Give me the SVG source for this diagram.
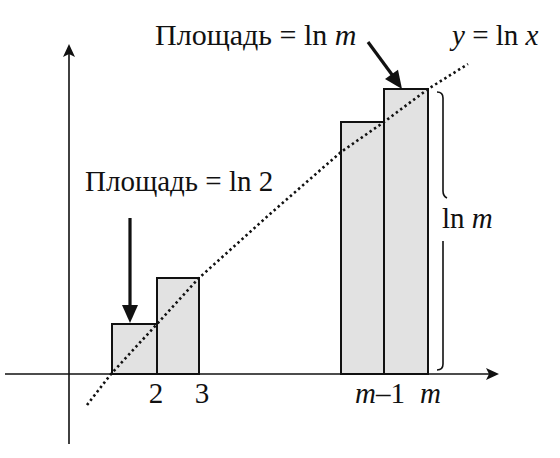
<svg xmlns="http://www.w3.org/2000/svg" width="560" height="458" viewBox="0 0 560 458">
<style>
text{font-family:"Liberation Serif","Times New Roman",serif;font-size:29px;fill:#111}
.it{font-style:italic}
.bar{fill:#e2e2e2;stroke:#111;stroke-width:2}
.axis{stroke:#111;stroke-width:1.6;fill:none}
.curve{stroke:#111;stroke-width:2.6;fill:none;stroke-dasharray:2.4 3}
.ptr{stroke:#111;stroke-width:3.2;fill:none}
</style>
<rect width="560" height="458" fill="#fff"/>
<g id="bars">
<rect id="bar-2" class="bar" x="112" y="324" width="45" height="50"/>
<rect id="bar-3" class="bar" x="157" y="278" width="42" height="96"/>
<rect id="bar-m1" class="bar" x="341" y="122" width="43" height="252"/>
<rect id="bar-m" class="bar" x="384" y="89" width="44" height="285"/>
</g>
<g id="axes">
<line class="axis" x1="5" y1="374" x2="492" y2="374"/>
<path d="M499,374 L486,368 L489,374 L486,380 Z" fill="#111"/>
<line class="axis" x1="69" y1="444" x2="69" y2="52"/>
<path d="M69,44 L63,57 L69,54 L75,57 Z" fill="#111"/>
</g>
<g id="curve">
<polyline class="curve" points="87,405 111,374 157,324 199,278 270,214 341,152 384,122 428,89 468,64"/>
<text x="452" y="45"><tspan class="it">y</tspan> = ln <tspan class="it">x</tspan></text>
</g>
<g id="connectors">
<line class="ptr" x1="368" y1="42" x2="393" y2="76"/>
<polygon points="398,69.7 385,79.1 402,89" fill="#111"/>
<line class="ptr" x1="130" y1="218" x2="130" y2="307"/>
<polygon points="122,305 138,305 130,323" fill="#111"/>
</g>
<g id="brace">
<path d="M437,92 Q443,92 443,98 V191 Q443,196 447,198" fill="none" stroke="#111" stroke-width="1.6"/>
<path d="M443,241 V364 Q443,370 437,370" fill="none" stroke="#111" stroke-width="1.6"/>
<text x="442" y="228">ln <tspan class="it">m</tspan></text>
</g>
<g id="labels">
<text x="155" y="45" style="font-size:30px">Площадь = ln <tspan class="it">m</tspan></text>
<text x="85" y="191">Площадь = ln 2</text>
<text x="156" y="403" text-anchor="middle">2</text>
<text x="202" y="403" text-anchor="middle">3</text>
<text x="355" y="403"><tspan class="it">m</tspan>–1</text>
<text x="420" y="403" class="it">m</text>
</g>
</svg>
